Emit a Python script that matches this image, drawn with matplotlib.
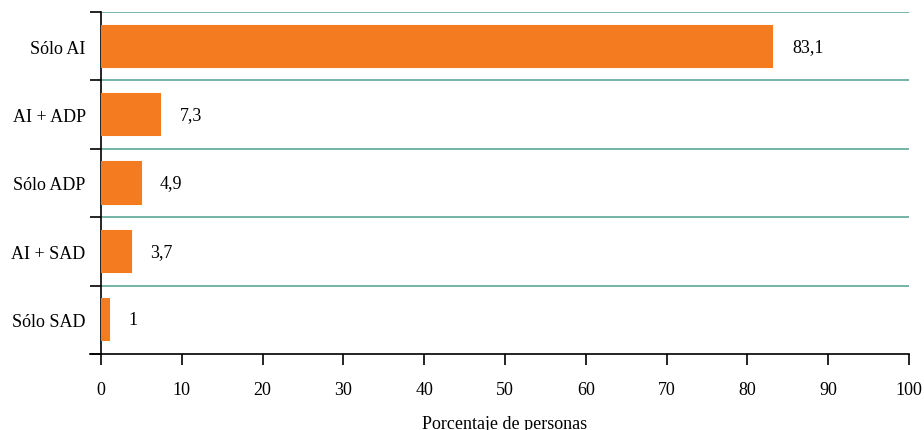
import matplotlib
matplotlib.use("Agg")
import matplotlib.pyplot as plt
import numpy as np

categories = ["Sólo AI", "AI + ADP", "Sólo ADP", "AI + SAD", "Sólo SAD"]
values = [83.1, 7.3, 4.9, 3.7, 1]
value_labels = ["83,1", "7,3", "4,9", "3,7", "1"]
x_ticks = list(range(0, 101, 10))

plt.rcParams["font.family"] = ["Liberation Serif", "DejaVu Serif"]
plt.rcParams["font.size"] = 13

bar_color = "#F47B20"
grid_color = "#4E9F90"

fig = plt.figure(figsize=(9.24, 4.31), dpi=100)
ax = fig.add_axes([101 / 924, 1 - 355 / 431, 808 / 924, 342 / 431])

pos = np.arange(len(categories))
ax.barh(pos, values, height=0.6, color=bar_color, edgecolor=bar_color, linewidth=1.5, zorder=3)

for p, v, lab in zip(pos, values, value_labels):
    ax.annotate(lab, (v, p), xytext=(14, 0), textcoords="offset points",
                va="center", ha="left", fontsize=13)

ax.set_xlim(0, 100)
ax.set_ylim(len(categories) - 0.5, -0.5)

# boundaries between categories
bounds = np.arange(-0.5, len(categories) + 0.5, 1.0)
for b in bounds[:-1]:
    ax.axhline(b, color=grid_color, linewidth=1.1, zorder=1)

ax.set_yticks(bounds)
ax.set_yticklabels([])
ax.set_yticks(pos, minor=True)
ax.set_yticklabels(categories, minor=True)
ax.tick_params(axis="y", which="major", length=8, width=1.2, color="black")
ax.tick_params(axis="y", which="minor", length=0, pad=11)

ax.set_xticks(x_ticks)
ax.set_xticklabels([str(t) for t in x_ticks])
ax.tick_params(axis="x", length=8, width=1.2, pad=11.5)

for s in ["top", "right"]:
    ax.spines[s].set_visible(False)
ax.spines["left"].set_linewidth(1.2)
ax.spines["bottom"].set_linewidth(1.2)
ax.spines["bottom"].set_bounds(-1.4, 100)
ax.spines["bottom"].set_clip_on(False)

ax.set_xlabel("Porcentaje de personas", fontsize=13, labelpad=12)

fig.savefig("out.png", dpi=100)
